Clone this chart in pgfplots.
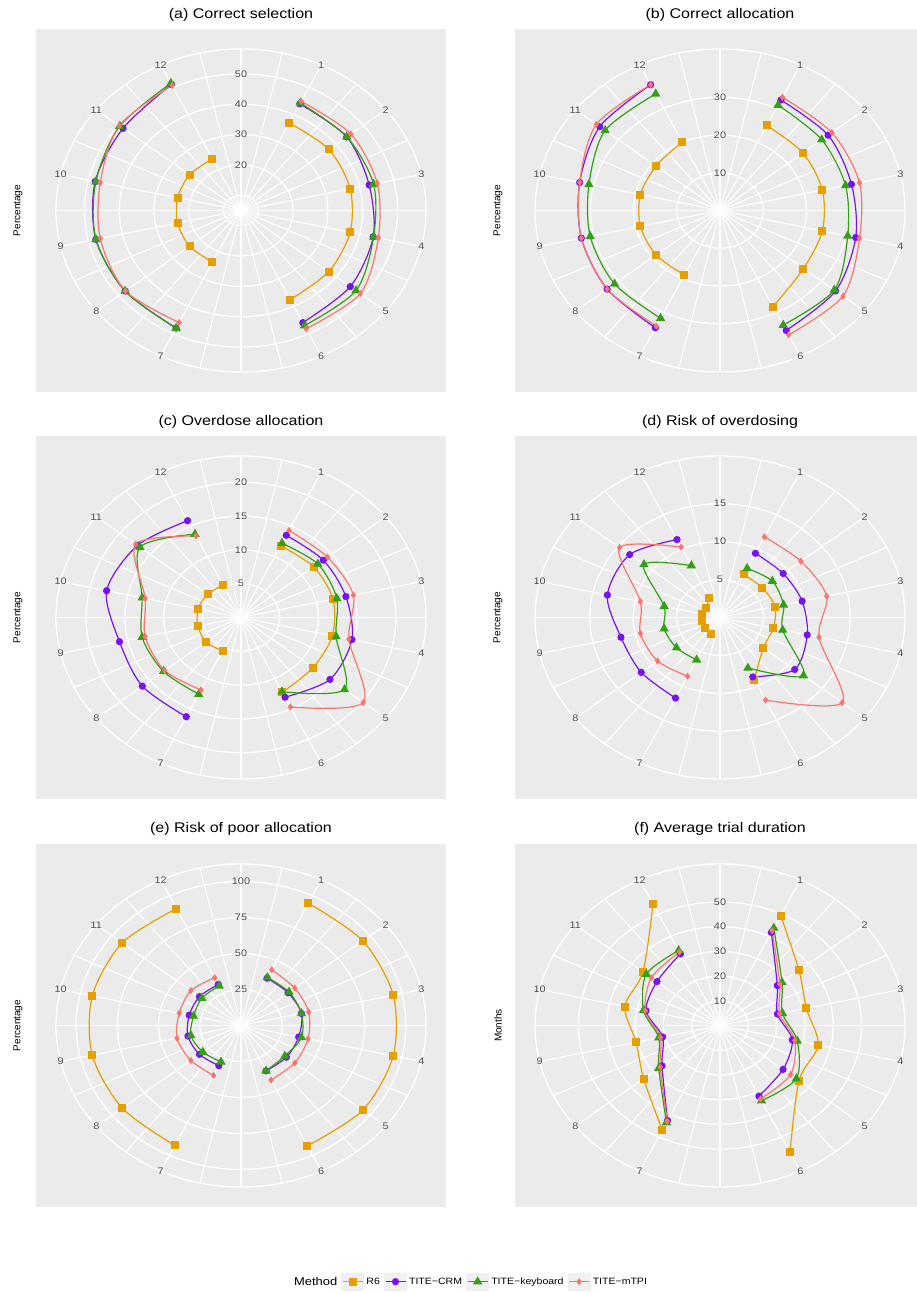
\documentclass[border=0pt]{standalone}
\usepackage{fontspec}
\setmainfont{Liberation Sans}[FakeStretch=1.145]
\newfontfamily\plainsans{Liberation Sans}
\usepackage{pgfplots}
\usepackage{pgfplotstable}
\pgfplotsset{compat=1.18}

\definecolor{panelbg}{HTML}{EBEBEB}
\definecolor{axtext}{HTML}{4D4D4D}
\definecolor{cR}{HTML}{E69F00}
\definecolor{cC}{RGB}{118,20,240}
\definecolor{cK}{RGB}{51,160,20}
\definecolor{cM}{HTML}{F8766D}

% scenario, R6, TITE-CRM, TITE-keyboard, TITE-mTPI
\pgfplotstableread{
s R6 CRM KB MT
1 37.0 44.0 44.3 44.9
2 37.3 43.9 43.9 45.4
3 37.2 42.8 44.1 45.2
4 37.2 44.0 44.1 45.5
5 37.3 45.2 47.3 48.9
6 37.6 46.0 47.1 48.2
7 23.9 48.0 48.0 46.0
8 23.9 47.6 47.6 47.5
9 23.7 47.8 47.8 46.5
10 23.7 48.0 47.8 46.5
11 23.9 48.4 49.6 49.8
12 23.9 51.1 51.5 50.7
}\tabA
\pgfplotstableread{
s R6 CRM KB MT
1 25.0 32.5 31.0 33.3
2 24.5 32.0 30.1 33.1
3 24.3 31.2 29.8 33.1
4 24.3 32.2 30.3 33.1
5 24.7 34.2 33.8 36.4
6 28.3 35.3 33.7 36.6
7 19.0 34.5 31.7 34.0
8 18.9 33.4 31.2 33.4
9 18.9 32.9 30.8 32.9
10 18.9 33.3 31.1 33.3
11 18.9 35.6 34.0 36.6
12 20.2 37.0 34.3 37.0
}\tabB
\pgfplotstableread{
s R6 CRM KB MT
1 11.8 13.5 12.2 14.3
2 12.0 13.6 12.7 14.3
3 12.2 13.9 12.7 14.9
4 12.1 14.7 12.6 14.3
5 11.9 14.7 17.1 20.2
6 12.3 13.1 12.2 14.7
7 5.5 16.3 12.6 11.9
8 5.8 16.3 12.8 12.6
9 5.7 16.1 13.1 12.7
10 5.7 17.8 13.1 12.7
11 5.5 17.1 16.7 17.4
12 5.3 15.9 13.7 13.4
}\tabC
\pgfplotstableread{
s R6 CRM KB MT
1 6.3 9.4 7.2 11.8
2 6.25 9.3 7.7 11.9
3 6.5 9.7 7.5 12.6
4 6.3 10.3 7.4 11.7
5 6.4 11.0 12.3 18.0
6 9.1 8.7 7.4 12.1
7 2.35 11.8 6.2 8.6
8 2.2 11.6 6.4 9.2
9 2.15 11.7 6.6 9.4
10 2.15 13.3 6.6 9.4
11 2.05 13.3 11.2 14.8
12 2.9 11.4 7.6 10.3
}\tabD
\pgfplotstableread{
s R6 CRM KB MT
1 94.3 36.5 37.0 43.0
2 94.4 36.5 37.3 41.7
3 94.7 37.6 37.6 42.1
4 94.7 35.9 37.6 41.7
5 94.4 35.3 34.0 41.7
6 92.8 35.0 35.0 42.0
7 92.5 31.0 28.0 38.5
8 92.1 32.2 29.6 38.9
9 92.5 33.0 31.2 39.8
10 92.5 32.2 29.5 38.4
11 92.1 32.2 30.4 38.9
12 90.2 31.7 30.6 36.8
}\tabE
\pgfplotstableread{
s R6 CRM KB MT
1 49.4 41.8 43.8 42.5
2 35.7 25.9 28.0 27.0
3 31.3 20.8 22.6 21.6
4 35.6 26.2 28.0 27.1
5 35.7 28.5 34.5 31.9
6 57.0 31.7 33.8 33.0
7 47.0 42.7 43.6 43.0
8 34.5 26.2 27.7 27.0
9 30.4 20.8 22.2 21.6
10 34.5 26.8 27.7 27.1
11 34.8 28.5 33.3 31.0
12 54.5 32.2 33.7 33.0
}\tabF

\tikzset{tl/.style={text=axtext,font=\fontsize{9.5}{11}\selectfont,inner sep=0pt}}
\pgfplotsset{
  panel/.style={width=410pt,height=363pt,scale only axis,anchor=south west,
    xmin=-1.1081,xmax=1.1081,ymin=-1.1238,ymax=1.1238,hide axis,clip=false},
  meth/.style={line width=1.2pt,smooth,mark options={solid}},
  sR/.style={meth,color=cR,mark=square*,mark size=3.4pt},
  sC/.style={meth,color=cC,mark=*,mark size=3pt},
  sK/.style={meth,color=cK,mark=triangle*,mark size=4.2pt},
  sM/.style={meth,color=cM,mark=diamond*,mark size=2.6pt},
}

% scenarios 1-6 on the right half, 7-12 on the left half (14 angular slots)
\newcommand\series[3]{%
  \addplot[#3,forget plot] table[skip coords between index={6}{12},
    x expr={(\thisrow{#2}-\polC)/\polR*sin(\thisrow{s}*360/14)},
    y expr={(\thisrow{#2}-\polC)/\polR*cos(\thisrow{s}*360/14)}]{#1};
  \addplot[#3,forget plot] table[skip coords between index={0}{6},
    x expr={(\thisrow{#2}-\polC)/\polR*sin((\thisrow{s}+1)*360/14)},
    y expr={(\thisrow{#2}-\polC)/\polR*cos((\thisrow{s}+1)*360/14)}]{#1};
}

% #1 x, #2 y, #3 table, #4 centre value, #5 outer ring radius, #6 rings, #7 ring labels
\newcommand\polarpanel[7]{%
\def\polC{#4}\def\polR{#5}%
\begin{axis}[panel,at={(#1pt,#2pt)}]
  \fill[panelbg] (rel axis cs:0,0) rectangle (rel axis cs:1,1);
  \pgfplotsinvokeforeach{#6}{\draw[white,line width=1.3pt] (axis cs:0,0) circle[radius={(##1-#4)/#5}];}
  \draw[white,line width=1.3pt] (axis cs:0,0) circle[radius=1];
  \pgfplotsinvokeforeach{0,...,27}{\draw[white,line width=1.1pt] (axis cs:0,0) -- (axis cs:{sin(##1*360/28)},{cos(##1*360/28)});}
  \draw[white,line width=1.8pt] (axis cs:0,-1) -- (axis cs:0,1);
  \series{#3}{R6}{sR}
  \series{#3}{CRM}{sC}
  \series{#3}{KB}{sK}
  \series{#3}{MT}{sM}
  \pgfplotsinvokeforeach{1,...,6}{\node[tl] at (axis cs:{sin(##1*360/14)},{cos(##1*360/14)}) {##1};}
  \pgfplotsinvokeforeach{7,...,12}{\node[tl] at (axis cs:{sin((##1+1)*360/14)},{cos((##1+1)*360/14)}) {##1};}
  \pgfplotsinvokeforeach{#7}{\node[tl] at (axis cs:0,{(##1-#4)/#5}) {##1};}
\end{axis}}

\begin{document}
\begin{tikzpicture}
\path[use as bounding box] (0,0) rectangle (917pt,1293pt);

\polarpanel{36}{901}{\tabA}{5}{53.2}{10,20,30,40,50}{20,30,40,50}
\polarpanel{515}{901}{\tabB}{0}{42.8}{10,20,30}{10,20,30}
\polarpanel{36}{494}{\tabC}{0}{23.9}{5,10,15,20}{5,10,15,20}
\polarpanel{515}{494}{\tabD}{0}{21.3}{5,10,15}{5,10,15}
\polarpanel{36}{86}{\tabE}{0}{112.2}{25,50,75,100}{25,50,75,100}
\polarpanel{515}{86}{\tabF}{0}{65.35}{10,20,30,40,50}{10,20,30,40,50}

% shared legend, placed below the panels
\begin{axis}[panel,at={(36pt,86pt)},
  legend columns=5,
  legend image code/.code={\fill[black!6] (-1pt,-8.5pt) rectangle (21pt,8.5pt);
    \draw[mark repeat=2,mark phase=2,#1] plot coordinates {(0pt,0pt) (10pt,0pt) (20pt,0pt)};},
  legend style={at={(axis description cs:1.0598,-0.2058)},anchor=center,draw=none,fill=none,
    font=\fontsize{9.2}{11}\selectfont,/tikz/every even column/.append style={column sep=2pt}}]
  \addlegendimage{empty legend}\addlegendentry{\fontsize{11.3}{13}\selectfont Method}
  \addlegendimage{sR}\addlegendentry{R6}
  \addlegendimage{sC}\addlegendentry{TITE−CRM}
  \addlegendimage{sK}\addlegendentry{TITE−keyboard}
  \addlegendimage{sM}\addlegendentry{TITE−mTPI}
\end{axis}

\begin{scope}[every node/.style={font=\fontsize{14}{16}\selectfont}]
\node at (241pt,1278pt) {(a) Correct selection};
\node at (720pt,1278pt) {(b) Correct allocation};
\node at (241pt,871pt) {(c) Overdose allocation};
\node at (720pt,871pt) {(d) Risk of overdosing};
\node at (241pt,464pt) {(e) Risk of poor allocation};
\node at (720pt,464pt) {(f) Average trial duration};
\end{scope}
\begin{scope}[every node/.style={rotate=90,font=\plainsans\fontsize{10}{12}\selectfont}]
\node at (18pt,1082.5pt) {Percentage};
\node at (498pt,1082.5pt) {Percentage};
\node at (18pt,675.5pt) {Percentage};
\node at (498pt,675.5pt) {Percentage};
\node at (18pt,267.5pt) {Percentage};
\node at (498pt,267.5pt) {Months};
\end{scope}
\end{tikzpicture}
\end{document}
